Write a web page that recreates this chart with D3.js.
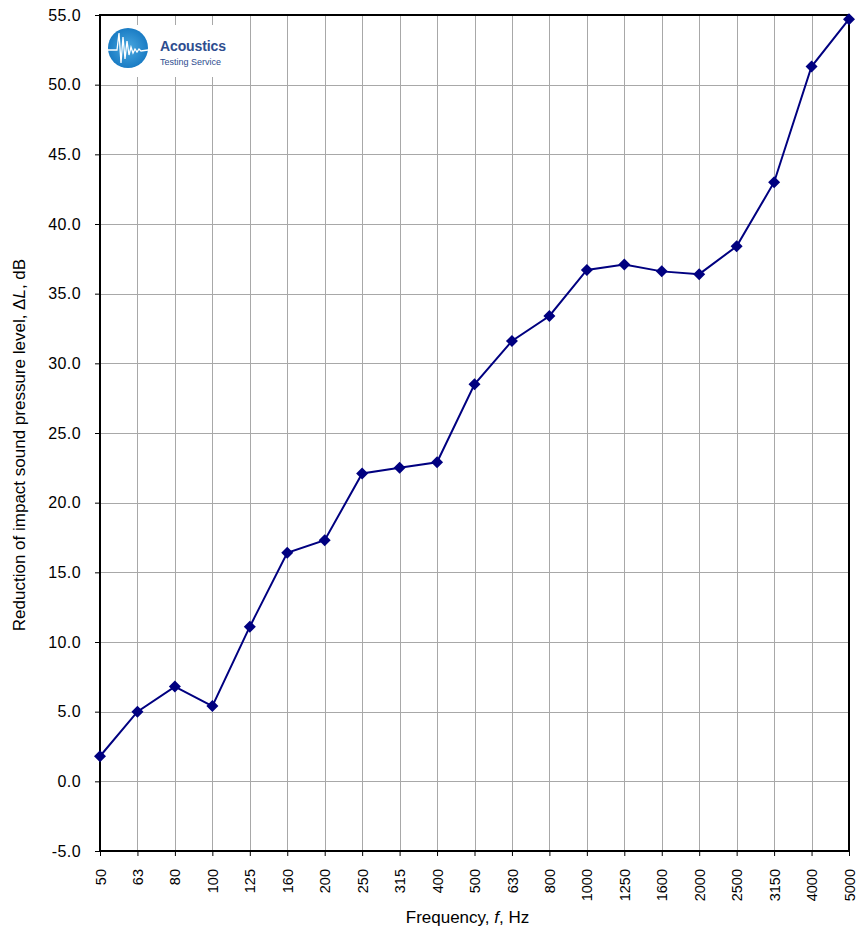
<!DOCTYPE html>
<html>
<head>
<meta charset="utf-8">
<script src="https://cdn.jsdelivr.net/npm/d3@7"></script>
<style>
  body { margin: 0; background: #fff; }
  svg text { font-family: "Liberation Sans", Arial, sans-serif; fill: #000; }
</style>
</head>
<body>
<div id="graphic"></div>
<script>
// chart data
const frequencies = ['50', '63', '80', '100', '125', '160', '200', '250', '315', '400', '500',
	'630', '800', '1000', '1250', '1600', '2000', '2500', '3150', '4000', '5000'];
const deltaL = [1.8, 5.0, 6.8, 5.4, 11.1, 16.4, 17.3, 22.1, 22.5, 22.9, 28.5,
	31.6, 33.4, 36.7, 37.1, 36.6, 36.4, 38.4, 43.0, 51.3, 54.7];
const yTicks = [-5, 0, 5, 10, 15, 20, 25, 30, 35, 40, 45, 50, 55];

const width = 859, height = 929;
const margin = { top: 15, right: 10, bottom: 78, left: 100 };
const chart_width = width - margin.left - margin.right;
const chart_height = height - margin.top - margin.bottom;

const svg = d3.select('#graphic')
	.append('svg')
	.attr('width', width)
	.attr('height', height)
	.append('g')
	.attr('transform', 'translate(' + margin.left + ',' + margin.top + ')');

// scales
const x = d3.scalePoint()
	.domain(frequencies)
	.range([0, chart_width]);

const y = d3.scaleLinear()
	.domain([-5, 55])
	.range([chart_height, 0]);

// gridlines
svg.append('g')
	.selectAll('line')
	.data(yTicks)
	.join('line')
	.attr('x1', 0)
	.attr('x2', chart_width)
	.attr('y1', d => Math.round(y(d)) + 0.5)
	.attr('y2', d => Math.round(y(d)) + 0.5)
	.attr('stroke', '#a8a8a8');

svg.append('g')
	.selectAll('line')
	.data(frequencies)
	.join('line')
	.attr('x1', d => Math.round(x(d)) + 0.5)
	.attr('x2', d => Math.round(x(d)) + 0.5)
	.attr('y1', 0)
	.attr('y2', chart_height)
	.attr('stroke', '#a8a8a8');

// logo (white box over the grid)
const logo = svg.append('g').attr('transform', 'translate(5,10)');
logo.append('rect')
	.attr('width', 128).attr('height', 52)
	.attr('fill', '#fff');
const grad = d3.select('svg').append('defs')
	.append('radialGradient').attr('id', 'lg');
grad.append('stop').attr('offset', '0%').attr('stop-color', '#4aa8e0');
grad.append('stop').attr('offset', '100%').attr('stop-color', '#1a7cc4');
logo.append('circle')
	.attr('cx', 23).attr('cy', 23).attr('r', 20)
	.attr('fill', 'url(#lg)');
logo.append('path')
	.attr('d', 'M3,25 L12,25 L14,8 L16,38 L18,12 L20,34 L22,16 L24,30 L26,22 L28,28 L30,24 L32,27 L34,24 L36,26 L43,25')
	.attr('fill', 'none')
	.attr('stroke', '#fff')
	.attr('stroke-width', 1.3);
logo.append('text')
	.attr('x', 55).attr('y', 26)
	.style('font-size', '14px')
	.style('font-weight', 'bold')
	.style('fill', '#2e4d8f')
	.attr('textLength', 66)
	.text('Acoustics');
logo.append('text')
	.attr('x', 55).attr('y', 40)
	.style('font-size', '9px')
	.style('fill', '#2e4d8f')
	.text('Testing Service');

// plot frame
svg.append('rect')
	.attr('x', 0).attr('y', 0)
	.attr('width', chart_width).attr('height', chart_height)
	.attr('fill', 'none')
	.attr('stroke', '#000')
	.attr('stroke-width', 2);

// y axis
svg.append('g')
	.call(d3.axisLeft(y).tickValues(yTicks).tickFormat(d => d.toFixed(1)).tickSize(5).tickPadding(14))
	.call(g => g.select('.domain').remove())
	.call(g => g.selectAll('text').style('font-size', '16px').style('letter-spacing', '0.4px'));

// x axis
svg.append('g')
	.attr('transform', 'translate(0,' + chart_height + ')')
	.call(d3.axisBottom(x).tickSize(5).tickSizeOuter(0))
	.call(g => g.select('.domain').remove())
	.call(g => g.selectAll('text')
		.style('font-size', '14.5px')
		.attr('text-anchor', 'end')
		.attr('transform', 'rotate(-90)')
		.attr('x', -18)
		.attr('y', 0)
		.attr('dy', '0.35em'));

// line
svg.append('path')
	.datum(deltaL)
	.attr('fill', 'none')
	.attr('stroke', '#000080')
	.attr('stroke-width', 2)
	.attr('d', d3.line().x((d, i) => x(frequencies[i])).y(d => y(d)));

// markers
svg.append('g')
	.selectAll('path')
	.data(deltaL)
	.join('path')
	.attr('transform', (d, i) => 'translate(' + x(frequencies[i]) + ',' + y(d) + ')')
	.attr('d', 'M0,-6L6,0L0,6L-6,0Z')
	.attr('fill', '#000080');

// axis labels
svg.append('text')
	.attr('x', chart_width / 2 - 7)
	.attr('y', chart_height + 72)
	.attr('text-anchor', 'middle')
	.style('font-size', '17px')
	.html('Frequency, <tspan font-style="italic">f</tspan>, Hz');

svg.append('text')
	.attr('transform', 'translate(' + (-75) + ',' + (chart_height / 2 + 12) + ') rotate(-90)')
	.attr('text-anchor', 'middle')
	.style('font-size', '17px')
	.html('Reduction of impact sound pressure level, \u0394<tspan font-style="italic">L</tspan>, dB');
</script>
</body>
</html>
